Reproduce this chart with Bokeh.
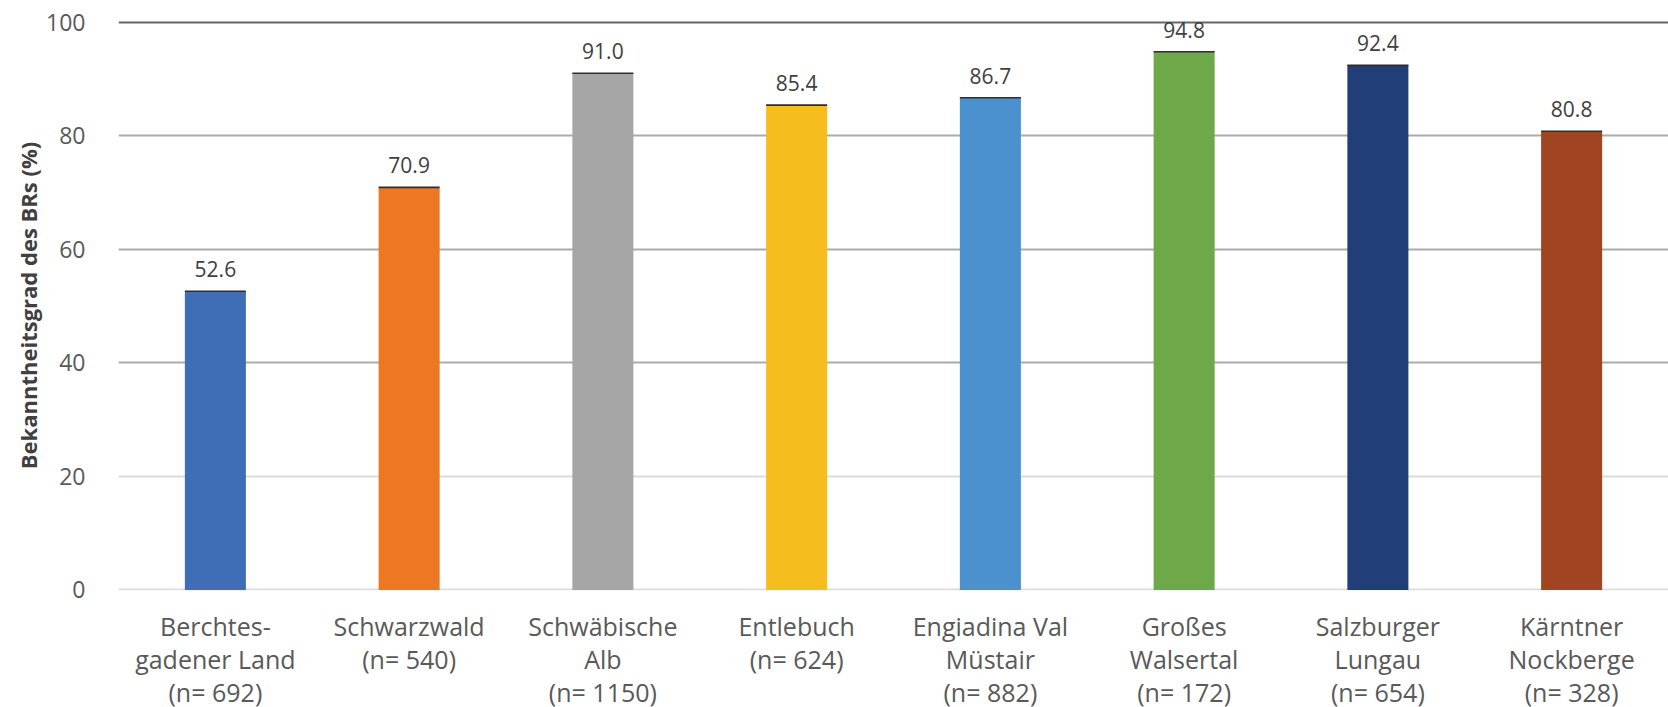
from bokeh.plotting import figure
from bokeh.models import (ColumnDataSource, FactorRange, Range1d, FixedTicker, Grid,
                          CategoricalAxis)
from bokeh.embed import file_html
from bokeh.resources import INLINE
from bokeh.core.properties import value

# Biosphere reserves, sample sizes and share of respondents who know "their" BR
region_lines = [["Berchtes-", "gadener Land"], ["Schwarzwald"], ["Schwäbische", "Alb"],
                ["Entlebuch"], ["Engiadina Val", "Müstair"], ["Großes", "Walsertal"],
                ["Salzburger", "Lungau"], ["Kärntner", "Nockberge"]]
sample_n = [692, 540, 1150, 624, 882, 172, 654, 328]
awareness = [52.6, 70.9, 91.0, 85.4, 86.7, 94.8, 92.4, 80.8]
bar_colors = ["#3F6DB6", "#EE7723", "#A6A6A6", "#F6BD1F", "#4A91CD", "#6EA849", "#213E78", "#A04422"]

y_ticks = [0, 20, 40, 60, 80, 100]
y_label = "Bekanntheitsgrad des BRs (%)"

# each category label is shown as up to three stacked lines, one axis per line;
# blank slots get distinct whitespace so every factor stays unique
label_rows = [[], [], []]
blank = 0
for lines, n in zip(region_lines, sample_n):
    full = lines + [f"(n= {n})"]
    while len(full) < 3:
        blank += 1
        full.append(" " * blank)
    for i in range(3):
        label_rows[i].append(full[i])

labels = [f"{v:.1f}" for v in awareness]
source = ColumnDataSource(dict(cat=label_rows[0], val=awareness, color=bar_colors, label=labels))

FONT = "Open Sans"
LABEL_COLOR = "#595959"

p = figure(
    x_range=FactorRange(*label_rows[0], range_padding=0),
    y_range=Range1d(-0.1, 100.3),
    frame_width=1550, frame_height=570,
    min_border_left=118, min_border_right=0, min_border_top=20, min_border_bottom=0,
    output_backend="svg", toolbar_location=None,
    background_fill_color="white", border_fill_color="white",
)
p.extra_x_ranges = {
    "row2": FactorRange(*label_rows[1], range_padding=0),
    "row3": FactorRange(*label_rows[2], range_padding=0),
}
p.outline_line_color = None
p.grid.visible = False

# Gridlines: faint near the base, medium in the middle, dark at the top
grid_groups = [([0, 20], "#DCDCDC"), ([40, 60, 80], "#ABABAB"), ([100], "#666666")]
for levels, col in grid_groups:
    p.add_layout(Grid(dimension=1, ticker=FixedTicker(ticks=levels),
                      grid_line_color=col, grid_line_width=2))

p.vbar(x="cat", top="val", bottom=0, width=0.315, source=source,
       fill_color="color", line_color=None)
# dark cap along the top of each bar
p.vbar(x="cat", top="val", bottom="val", width=0.315, source=source,
       fill_color=None, line_color="#2E2E2E", line_width=1.6)

p.text(x="cat", y="val", text="label", source=source,
       text_font=value(FONT), text_font_size="21px", text_color="#404040",
       text_align="center", text_baseline="bottom", y_offset=-14)

# y axis
p.yaxis.ticker = FixedTicker(ticks=y_ticks)
p.yaxis.axis_line_color = None
p.yaxis.major_tick_line_color = None
p.yaxis.minor_tick_line_color = None
p.yaxis.major_label_text_font = FONT
p.yaxis.major_label_text_font_size = "23px"
p.yaxis.major_label_text_color = LABEL_COLOR
p.yaxis.major_label_standoff = 27
p.yaxis.axis_label = y_label
p.yaxis.axis_label_text_font = FONT
p.yaxis.axis_label_text_font_style = "bold"
p.yaxis.axis_label_text_font_size = "22px"
p.yaxis.axis_label_text_color = "#404040"
p.yaxis.axis_label_standoff = 0


def style_x_axis(ax, standoff):
    ax.axis_line_color = None
    ax.major_tick_line_color = None
    ax.minor_tick_line_color = None
    ax.major_label_text_font = FONT
    ax.major_label_text_font_size = "25px"
    ax.major_label_text_color = LABEL_COLOR
    ax.major_label_standoff = standoff


style_x_axis(p.xaxis[0], 12)
for name in ["row2", "row3"]:
    extra = CategoricalAxis(x_range_name=name)
    style_x_axis(extra, -10)
    p.add_layout(extra, "below")

open("out.html", "w").write(file_html(p, INLINE))
